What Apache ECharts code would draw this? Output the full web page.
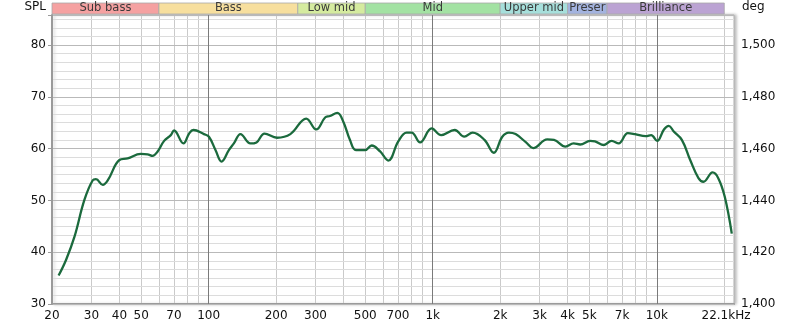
<!DOCTYPE html>
<html>
<head>
<meta charset="utf-8">
<script src="https://cdn.jsdelivr.net/npm/echarts@6/dist/echarts.min.js"></script>
<style>
html,body{margin:0;padding:0;background:#fff;}
#c{width:800px;height:329px;}
</style>
</head>
<body>
<div id="c"></div>
<script>
// ---- data ----
const freqHz = [21.4, 23.1, 25.2, 27.9, 30.4, 31.4, 33.7, 35.5, 40, 43.5, 49.8, 53.4, 56.2, 59.1, 63.3, 67.8, 70.1, 77.2, 81.8, 85.5, 95.3, 100.3, 107.4, 114.2, 123.1, 129.6, 138.7, 153.6, 163.5, 177.6, 202, 231.6, 272.5, 302, 331, 348, 375, 399, 427, 454, 499, 534, 581, 633, 702, 764, 805, 878, 989, 1091, 1253, 1383, 1507, 1702, 1873, 2044, 2187, 2343, 2609, 2806, 3244, 3477, 3912, 4254, 4551, 5038, 5298, 5804, 6281, 6757, 7425, 8000, 8925, 9435, 10030, 10760, 11310, 11900, 12930, 14090, 15340, 16140, 17740, 18800, 20100, 21600];
const splDb = [35.5, 38.5, 43.0, 50.1, 53.9, 54.1, 53.0, 53.9, 57.8, 58.1, 59.0, 58.9, 58.6, 59.4, 61.5, 62.6, 63.5, 61.0, 62.9, 63.6, 62.8, 62.3, 59.7, 57.5, 59.7, 61.0, 62.8, 61.0, 61.2, 62.9, 62.1, 62.8, 65.8, 63.7, 66.0, 66.3, 66.9, 65.2, 61.7, 59.7, 59.7, 60.6, 59.5, 57.7, 61.4, 63.1, 63.1, 61.2, 63.9, 62.6, 63.6, 62.3, 63.1, 61.7, 59.2, 62.3, 63.1, 62.8, 61.2, 60.1, 61.8, 61.7, 60.4, 61.0, 60.8, 61.5, 61.4, 60.7, 61.5, 61.0, 63.0, 62.8, 62.4, 62.6, 61.5, 63.7, 64.4, 63.3, 61.7, 57.8, 54.3, 53.6, 55.4, 54.3, 50.7, 43.6];

const xLabelValues = [20, 30, 40, 50, 70, 100, 200, 300, 500, 700, 1000, 2000, 3000, 4000, 5000, 7000, 10000, 22100];
const xGridValues = [20, 30, 40, 50, 60, 70, 80, 90, 100, 200, 300, 400, 500, 600, 700, 800, 900, 1000, 2000, 3000, 4000, 5000, 6000, 7000, 8000, 9000, 10000, 20000];
const xDecadeValues = [100, 1000, 10000];

const bandNames = ['Sub bass', 'Bass', 'Low mid', 'Mid', 'Upper mid', 'Preser', 'Brilliance'];
const bandStart = [20, 60, 250, 500, 2000, 4000, 6000];
const bandEnd = [60, 250, 500, 2000, 4000, 6000, 20000];
const bandColors = ['#f5a1a1', '#f7df9e', '#d5eb9f', '#a3e2a3', '#a6dfdb', '#a3b3df', '#bba3d3'];

const splMin = 30, splMax = 85.8, degMin = 1400, degMax = 1511.6;

// ---- chart ----
const chart = echarts.init(document.getElementById('c'), null, {renderer: 'canvas'});
const FONT = 'DejaVu Sans';
const near = (v, step) => Math.abs(v - Math.round(v / step) * step) < 1e-6;

const option = {
  animation: false,
  backgroundColor: '#fff',
  textStyle: {fontFamily: FONT},
  grid: [
    {left: 52, right: 66, top: 15, bottom: 25, show: true, backgroundColor: '#fff',
     borderColor: '#b0b0b0', borderWidth: 1,
     shadowColor: 'rgba(0,0,0,0.25)', shadowBlur: 3, shadowOffsetX: 2, shadowOffsetY: 0},
    {left: 52, right: 66, top: 3, height: 11}
  ],
  xAxis: [
    {type: 'log', logBase: 10, gridIndex: 0, min: 20, max: 22100,
     axisLine: {show: true, onZero: false, lineStyle: {color: '#9a9a9a', width: 2}},
     axisTick: {show: false, customValues: xGridValues},
     splitLine: {show: true, lineStyle: {color: '#cacaca', width: 1}},
     axisLabel: {customValues: xLabelValues, color: '#111', fontSize: 12, fontFamily: FONT, margin: 6,
       formatter: v => {
         if (Math.abs(v - 22100) < 1) return '{e|22.1kHz}';
         return v >= 1000 ? (v / 1000) + 'k' : String(v);
       },
       rich: {e: {fontSize: 12, fontFamily: FONT, color: '#111', padding: [0, 16, 0, 0]}}
     }},
    {type: 'log', logBase: 10, gridIndex: 0, min: 20, max: 22100, z: 3,
     axisLine: {show: false}, axisLabel: {show: false},
     axisTick: {show: false, customValues: xDecadeValues},
     splitLine: {show: true, lineStyle: {color: '#7a7a7a', width: 1}}},
    {type: 'log', logBase: 10, gridIndex: 1, min: 20, max: 22100, show: false}
  ],
  yAxis: [
    {type: 'value', gridIndex: 0, position: 'left', min: splMin, max: splMax, interval: 10, z: 2,
     name: 'SPL', nameLocation: 'end', nameGap: 2,
     nameTextStyle: {color: '#111', fontSize: 12, fontFamily: FONT, align: 'right', padding: [0, 6, 0, 0]},
     axisLine: {show: true, lineStyle: {color: '#9a9a9a', width: 2}},
     axisTick: {show: true, length: 4, lineStyle: {color: '#9a9a9a'}},
     splitLine: {show: true, lineStyle: {color: '#b9b9b9'}},
     axisLabel: {color: '#111', fontSize: 12, fontFamily: FONT, margin: 6,
       formatter: v => near(v, 10) ? String(Math.round(v)) : ''}},
    {type: 'value', gridIndex: 0, position: 'right', min: degMin, max: degMax, interval: 10 / 3, z: 1,
     name: 'deg', nameLocation: 'end', nameGap: 2,
     nameTextStyle: {color: '#111', fontSize: 12, fontFamily: FONT, align: 'left', padding: [0, 0, 0, 8]},
     axisLine: {show: false}, axisTick: {show: false},
     splitLine: {show: true, lineStyle: {color: '#dcdcdc'}},
     axisLabel: {color: '#111', fontSize: 12, fontFamily: FONT, margin: 7,
       formatter: v => near(v, 20) ? Math.round(v).toLocaleString('en-US') : ''}},
    {type: 'value', gridIndex: 1, min: 0, max: 1, show: false}
  ],
  series: [
    {type: 'line', xAxisIndex: 0, yAxisIndex: 0, z: 5,
     data: freqHz.map((f, i) => [f, splDb[i]]),
     showSymbol: false, smooth: 0.4,
     lineStyle: {color: '#1b6a3d', width: 2.3}},
    {type: 'custom', xAxisIndex: 2, yAxisIndex: 2,
     data: bandStart.map((s, i) => [s, bandEnd[i]]),
     encode: {x: [0, 1]},
     renderItem: (params, api) => {
       const i = params.dataIndex;
       const p0 = api.coord([api.value(0), 1]);
       const p1 = api.coord([api.value(1), 0]);
       return {
         type: 'rect',
         shape: {x: p0[0], y: p0[1], width: p1[0] - p0[0], height: p1[1] - p0[1]},
         style: {fill: bandColors[i], stroke: '#a8a8a8', lineWidth: 0.8},
         textContent: {style: {text: bandNames[i], fill: '#3a3a3a', font: '11.5px "DejaVu Sans"'}},
         textConfig: {position: 'inside'}
       };
     }}
  ]
};
chart.setOption(option);
</script>
</body>
</html>
